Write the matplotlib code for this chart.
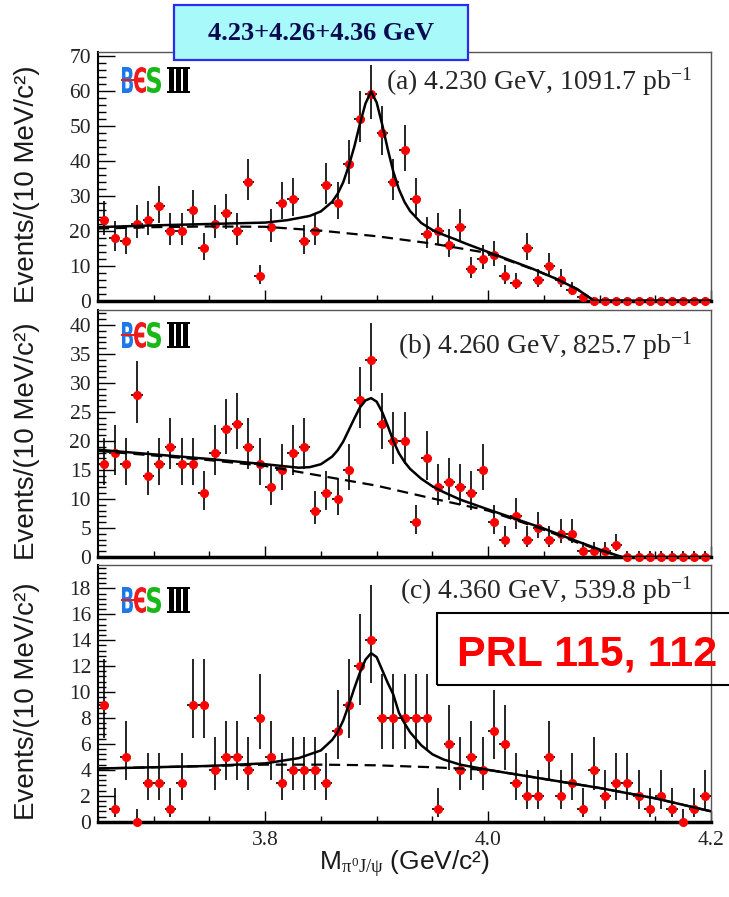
import numpy as np
import matplotlib
matplotlib.use('Agg')
import matplotlib.pyplot as plt
from matplotlib.ticker import MultipleLocator
from matplotlib.patches import Rectangle, PathPatch
from matplotlib.textpath import TextPath
from matplotlib.font_manager import FontProperties
from matplotlib.transforms import Affine2D

plt.rcParams['font.family'] = 'Liberation Serif'
plt.rcParams['mathtext.fontset'] = 'custom'
plt.rcParams['mathtext.rm'] = 'Liberation Serif'
plt.rcParams['mathtext.it'] = 'Liberation Serif'

# 10 MeV bins, centres 3.655 ... 4.195 GeV
mass = np.round(3.655 + 0.01 * np.arange(55), 3)

cnt_a = [23, 18, 17, 22, 23, 27, 20, 20, 26, 15, 22, 25, 20, 34, 7, 21, 28, 29, 17, 20,
         33, 28, 39, 52, 59, 48, 34, 43, 29, 19, 20, 16, 21, 9, 12, 13, 7, 5, 15, 6,
         10, 6, 3, 1, 0, 0, 0, 0, 0, 0, 0, 0, 0, 0, 0]
cnt_b = [16, 18, 16, 28, 14, 16, 19, 16, 16, 11, 18, 22, 23, 19, 16, 12, 15, 18, 19, 8,
         11, 10, 15, 27, 34, 23, 20, 20, 6, 17, 12, 13, 12, 11, 15, 6, 3, 7, 3, 5,
         3, 4, 4, 1, 1, 1, 2, 0, 0, 0, 0, 0, 0, 0, 0]
cnt_c = [9, 1, 5, 0, 3, 3, 1, 3, 9, 9, 4, 5, 5, 4, 8, 5, 3, 4, 4, 4,
         3, 7, 9, 12, 14, 8, 8, 8, 8, 8, 1, 6, 4, 5, 4, 7, 6, 3, 2, 2,
         5, 2, 3, 1, 4, 2, 3, 3, 2, 1, 2, 1, 0, 1, 2]

# fit curves (total and background)
tot_x_a = [3.65, 3.70, 3.75, 3.80, 3.82, 3.84, 3.85, 3.86, 3.865, 3.87, 3.875, 3.88, 3.885,
           3.89, 3.895, 3.90, 3.905, 3.91, 3.915, 3.92, 3.925, 3.93, 3.94, 3.95, 3.96,
           3.97, 3.98, 3.99, 4.00, 4.02, 4.04, 4.06, 4.08, 4.095, 4.20]
tot_a = [21.0, 21.5, 21.9, 22.3, 23.0, 24.2, 25.5, 28.2, 30.5, 33.8, 38.5, 44.0, 50.5,
         56.3, 59.7, 56.6, 50.3, 43.2, 36.8, 31.8, 28.2, 25.6, 22.2, 20.2, 18.8,
         17.6, 16.3, 15.1, 13.9, 11.5, 9.1, 6.4, 3.3, 0.0, 0.0]
bg_x_a = [3.65, 3.70, 3.75, 3.80, 3.85, 3.90, 3.95, 4.00, 4.04, 4.06, 4.08, 4.095, 4.20]
bg_a = [20.6, 21.0, 21.2, 21.1, 20.0, 18.4, 16.3, 13.6, 9.0, 6.4, 3.3, 0.0, 0.0]

tot_x_b = [3.65, 3.70, 3.75, 3.80, 3.83, 3.84, 3.85, 3.86, 3.865, 3.87, 3.875, 3.88, 3.885,
           3.89, 3.895, 3.90, 3.905, 3.91, 3.915, 3.92, 3.925, 3.93, 3.94, 3.95, 3.96,
           3.975, 4.00, 4.05, 4.08, 4.10, 4.12, 4.20]
tot_b = [18.5, 17.7, 16.9, 16.0, 15.4, 15.5, 16.0, 17.3, 18.4, 19.9, 21.9, 23.9, 25.8,
         27.0, 27.4, 26.8, 25.0, 22.6, 20.0, 17.9, 16.4, 15.2, 13.5, 12.2, 11.2,
         9.9, 8.2, 4.9, 2.7, 1.3, 0.0, 0.0]
bg_x_b = [3.65, 3.70, 3.75, 3.80, 3.85, 3.90, 3.95, 4.00, 4.05, 4.08, 4.10, 4.12, 4.20]
bg_b = [18.3, 17.5, 16.7, 15.7, 14.0, 12.3, 10.1, 8.0, 4.7, 2.5, 1.2, 0.0, 0.0]

tot_x_c = [3.65, 3.70, 3.75, 3.80, 3.83, 3.85, 3.86, 3.865, 3.87, 3.875, 3.88, 3.885,
           3.89, 3.895, 3.90, 3.905, 3.91, 3.915, 3.92, 3.925, 3.93, 3.94, 3.95, 3.96,
           3.975, 4.00, 4.05, 4.10, 4.15, 4.20]
tot_c = [4.1, 4.2, 4.3, 4.5, 4.9, 5.5, 6.3, 6.9, 7.8, 9.0, 10.3, 11.5,
         12.5, 13.0, 12.7, 11.7, 10.7, 9.8, 8.4, 7.6, 6.9, 5.9, 5.2, 4.8,
         4.4, 4.0, 3.3, 2.6, 1.8, 0.8]
bg_x_c = [3.65, 3.70, 3.75, 3.80, 3.85, 3.90, 3.95, 4.00, 4.05, 4.10, 4.15, 4.20]
bg_c = [4.1, 4.2, 4.3, 4.4, 4.4, 4.35, 4.2, 4.0, 3.3, 2.6, 1.8, 0.8]

labels = ['(a) 4.230 GeV, 1091.7 pb$^{-1}$',
          '(b) 4.260 GeV, 825.7 pb$^{-1}$',
          '(c) 4.360 GeV, 539.8 pb$^{-1}$']
ymax = [71, 42.6, 19.8]
ymajor = [10, 5, 2]
yminor = [2, 1, 0.4]

W, H = 729, 897
fig = plt.figure(figsize=(W / 100, H / 100), dpi=100)

# panel boxes in pixels: (top, bottom)
boxes = [(52, 300.7), (310, 557), (565, 821.7)]
text_y = [0.847, 0.825, 0.870]
logo_top = [67, 322, 587]

data = [(cnt_a, tot_x_a, tot_a, bg_x_a, bg_a),
        (cnt_b, tot_x_b, tot_b, bg_x_b, bg_b),
        (cnt_c, tot_x_c, tot_c, bg_x_c, bg_c)]


def letter(ch, fam, weight, color, x0, x1, ytop, ybot):
    tp = TextPath((0, 0), ch, size=40, prop=FontProperties(family=fam, weight=weight))
    bb = tp.get_extents()
    tr = (Affine2D().translate(-bb.x0, -bb.y0)
          .scale((x1 - x0) / bb.width, (ybot - ytop) / bb.height)
          .translate(x0, H - ybot))
    fig.add_artist(PathPatch(tp, transform=tr, fc=color, ec='none', zorder=5))


def logo(top):
    bot = top + 26
    letter('B', 'DejaVu Sans', 'bold', '#1e78e6', 122, 133, top, bot)
    letter('Є', 'DejaVu Sans', 'bold', '#f01818', 134, 146, top, bot)
    letter('S', 'DejaVu Sans', 'bold', '#18b818', 147, 161, top, bot)
    letter('Ⅲ', 'DejaVu Serif', 'bold', 'black', 167, 190, top, bot)
    fig.add_artist(Rectangle((121, H - top - 14), 17, 2.5, transform=Affine2D(),
                             fc='#f01818', ec='none', zorder=6))


for i, (cnt, tx, ty, bx, by) in enumerate(data):
    top, bot = boxes[i]
    ax = fig.add_axes([98 / W, 1 - bot / H, 613 / W, (bot - top) / H])
    cnt = np.array(cnt, dtype=float)
    lo = np.sqrt(cnt + 0.25) - 0.5
    hi = np.sqrt(cnt + 0.25) + 0.5
    ax.errorbar(mass, cnt, yerr=[lo, hi], xerr=0.005, fmt='o', ms=5.5,
                mfc='#ff0000', mec='#ff0000', ecolor='black', elinewidth=1.2,
                capsize=0, zorder=3, clip_on=False)
    ax.plot(bx, by, color='black', lw=1.6, ls=(0, (5, 3)), zorder=4)
    ax.plot(tx, ty, color='black', lw=1.8, zorder=4)

    ax.set_xlim(3.65, 4.2)
    ax.set_ylim(0, ymax[i])
    ax.xaxis.set_major_locator(MultipleLocator(0.2))
    ax.xaxis.set_minor_locator(MultipleLocator(0.05))
    ax.yaxis.set_major_locator(MultipleLocator(ymajor[i]))
    ax.yaxis.set_minor_locator(MultipleLocator(yminor[i]))
    ax.tick_params(which='both', direction='in', top=False, right=False,
                   labelsize=15.5, colors='black', labelcolor='#222222')
    ax.tick_params(axis='y', which='major', length=12, width=1, pad=5)
    ax.tick_params(axis='y', which='minor', length=6, width=1)
    ax.tick_params(axis='x', which='major', length=8, width=1, pad=7)
    ax.tick_params(axis='x', which='minor', length=4, width=1)
    if i < 2:
        ax.tick_params(axis='x', labelbottom=False)

    ax.spines['left'].set_linewidth(1.5)
    ax.spines['bottom'].set_linewidth(2.5)
    for s in ['top', 'right']:
        ax.spines[s].set_linewidth(1.0)
        ax.spines[s].set_color('#555555')

    ax.set_ylabel('Events/(10 MeV/c²)', family='Liberation Sans', fontsize=20,
                  color='#1a1a1a')
    ax.yaxis.set_label_coords(-0.095, 0.47)
    ax.text(0.969, text_y[i], labels[i], transform=ax.transAxes, ha='right',
            va='baseline', fontsize=20, color='#262626')
    logo(logo_top[i])

fig.text(404 / W, 1 - 870 / H, 'M$_{\\pi^{0}J/\\psi}$ (GeV/c²)', ha='center',
         va='baseline', family='Liberation Sans', fontsize=19, color='#1a1a1a')

# energy box on top
fig.add_artist(Rectangle((174 / W, 1 - 60 / H), 294 / W, 55 / H, transform=fig.transFigure,
                         fc='#a8fafa', ec='#2b2bf0', lw=1.6, zorder=10))
fig.text(321 / W, 1 - 34 / H, '4.23+4.26+4.36 GeV', ha='center', va='center',
         fontsize=19, weight='bold', color='#0a0a50', zorder=11)

# reference box, runs off the right edge
fig.add_artist(Rectangle((437 / W, 1 - 685 / H), 330 / W, 72 / H, transform=fig.transFigure,
                         fc='none', ec='black', lw=1.5, zorder=10))
fig.text(457 / W, 1 - 665 / H, 'PRL 115, 112', ha='left', va='baseline',
         family='Liberation Sans', weight='bold', fontsize=31, color='#ff0000', zorder=11)

fig.savefig('out.png', dpi=100)
